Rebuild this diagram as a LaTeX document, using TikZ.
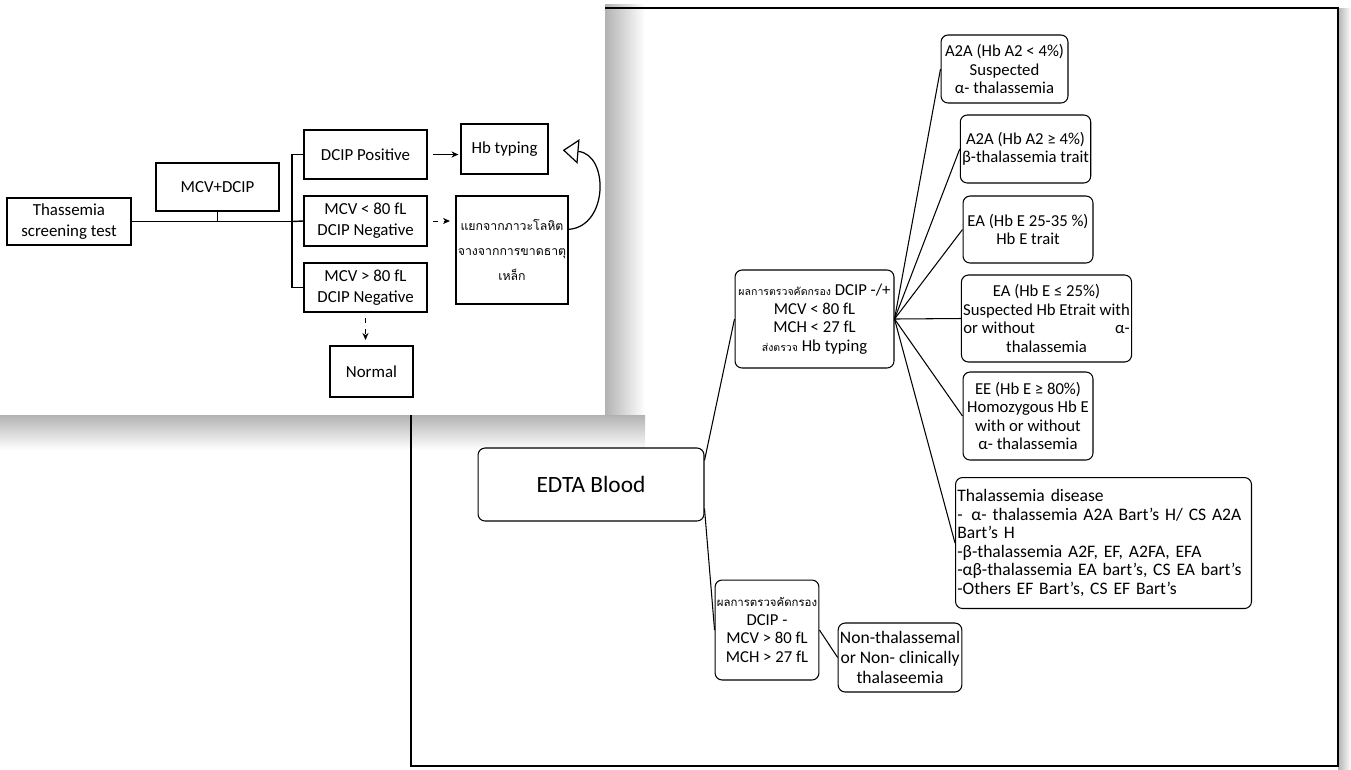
\documentclass[tikz,border=0pt]{standalone}
\usepackage{fontspec}
\setmainfont{Carlito}
\newfontfamily\thaifont[Script=Thai]{Loma}
\usetikzlibrary{arrows.meta}

\begin{document}
\begin{tikzpicture}[x=0.02cm,y=-0.02cm,
		box/.style={draw,line width=0.9pt,inner sep=1pt,align=center,font=\fontsize{9.6}{11.8}\selectfont},
		rbox/.style={draw,line width=0.6pt,rounded corners=4pt,inner sep=1pt,align=center,font=\fontsize{9.5}{10.5}\selectfont},
		thai/.style={font=\thaifont\fontsize{7}{14.5}\selectfont},
		>={Stealth[length=4pt,width=3.5pt]}]
	\useasboundingbox (0,0) rectangle (1351,769);
	\shade[left color=black!30,right color=white] (605,4) rectangle (645,450);
	\shade[top color=black!30,bottom color=white] (0,415) rectangle (645,450);
	\shade[left color=black!30,right color=white] (1338,8) rectangle (1351,769);
	\draw[line width=0.8pt] (411,8) rectangle (1338,766);
	\fill[white] (0,0) rectangle (605,415);
		\node[box,minimum width=2.48cm,minimum height=0.94cm] (TST) at (69,221.5) {Thassemia\\screening test};
		\node[box,minimum width=2.46cm,minimum height=0.96cm] (MD) at (217.5,187) {MCV+DCIP};
		\node[box,minimum width=2.46cm,minimum height=0.98cm] (DP) at (365.5,154.5) {DCIP Positive};
		\node[box,minimum width=2.46cm,minimum height=1.0cm] (M80a) at (365.5,221) {MCV < 80 fL\\DCIP Negative};
		\node[box,minimum width=2.46cm,minimum height=0.98cm] (M80b) at (365.5,287.5) {MCV > 80 fL\\DCIP Negative};
		\node[box,minimum width=1.74cm,minimum height=1.0cm] (HB) at (504.5,149) {Hb typing};
		\node[box,thai,minimum width=2.24cm,minimum height=2.16cm] (IDA) at (512,250) {แยกจากภาวะโลหิต\\จางจากการขาดธาตุ\\เหล็ก};
		\node[box,minimum width=1.66cm,minimum height=1.02cm] (NRM) at (371.5,371.5) {Normal};
		\coordinate (J1) at (292,221.5);
		\draw[line width=0.8pt] (TST.east) -- (J1);
		\draw[line width=0.8pt] (MD.south) -- (MD.south |- J1);
		\draw[line width=0.8pt] (DP.west) -| (J1) |- (M80b.west);
		\draw[line width=0.8pt] (J1) -- (M80a.west);
		\draw[->,line width=0.7pt,shorten <=3pt,shorten >=1pt] (DP.east) -- (DP.east -| HB.west);
		\draw[->,dashed,line width=0.5pt,shorten <=3pt,shorten >=3pt] (M80a.east) -- (M80a.east -| IDA.west);
		\draw[->,dashed,line width=0.5pt,shorten <=3pt,shorten >=3pt] (M80b.south) -- (M80b.south |- NRM.north);
		\draw[-{Triangle[open,length=9pt,width=14pt]},line width=0.7pt,shorten >=8pt] (IDA.20) .. controls +(40,-3) and +(60,5) .. (HB.east);
		\node[rbox,font=\fontsize{13.3}{15}\selectfont,minimum width=4.52cm,minimum height=1.46cm] (EDTA) at (591,484.5) {EDTA Blood};
		\node[rbox,minimum width=3.18cm,minimum height=1.96cm] (SCRa) at (814.5,319) {{\thaifont\fontsize{6}{7}\selectfont ผลการตรวจคัดกรอง} DCIP -/+\\MCV < 80 fL\\MCH < 27 fL\\{\thaifont\fontsize{6}{7}\selectfont ส่งตรวจ} Hb typing};
		\node[rbox,minimum width=2.04cm,minimum height=2.0cm] (SCRb) at (767,630) {{\thaifont\fontsize{6.5}{7.5}\selectfont ผลการตรวจคัดกรอง}\\DCIP -\\MCV > 80 fL\\MCH > 27 fL};
		\node[rbox,font=\fontsize{10}{11.5}\selectfont,minimum width=2.0cm,minimum height=1.38cm] (NT) at (900,657.5) {Non-thalassemal\\or Non- clinically\\thalaseemia};
		\node[rbox,minimum width=2.54cm,minimum height=1.36cm] (A2Aa) at (1004.5,69) {A2A (Hb A2 < 4\%)\\Suspected\\α- thalassemia};
		\node[rbox,minimum width=2.5cm,minimum height=1.36cm] (A2Ab) at (1025.5,149) {A2A (Hb A2 ≥ 4\%)\\β-thalassemia trait};
		\node[rbox,minimum width=2.6cm,minimum height=1.34cm] (EAa) at (1028,229.5) {EA (Hb E 25-35 \%)\\Hb E trait};
		\node[rbox,minimum width=3.34cm,minimum height=1.74cm] (EAb) at (1046.5,318.5) {EA (Hb E ≤ 25\%)\\Suspected Hb Etrait with\\or without\hspace{1.6cm}α-\\thalassemia};
		\node[rbox,minimum width=2.6cm,minimum height=1.76cm] (EE) at (1028,416) {EE (Hb E ≥ 80\%)\\Homozygous Hb E\\with or without\\α- thalassemia};
		\node[rbox,font=\fontsize{10}{10.6}\selectfont,align=left,anchor=north west,text width=5.85cm,minimum height=2.62cm] (TD) at (955,477) {Thalassemia disease\\-\enspace α- thalassemia A2A Bart’s H/ CS A2A\\Bart’s H\\-β-thalassemia A2F, EF, A2FA, EFA\\-αβ-thalassemia EA bart’s, CS EA bart’s\\-Others EF Bart’s, CS EF Bart’s};
		\foreach \t in {A2Aa,A2Ab,EAa,EAb,EE,TD}
			\draw[line width=0.6pt] (SCRa.east) -- (\t.west);
		\draw[line width=0.6pt] (EDTA.12) -- (SCRa.west);
		\draw[line width=0.6pt] (EDTA.-12) -- (SCRb.west);
		\draw[line width=0.6pt] (SCRb.east) -- (NT.west);
	\end{tikzpicture}
\end{document}
